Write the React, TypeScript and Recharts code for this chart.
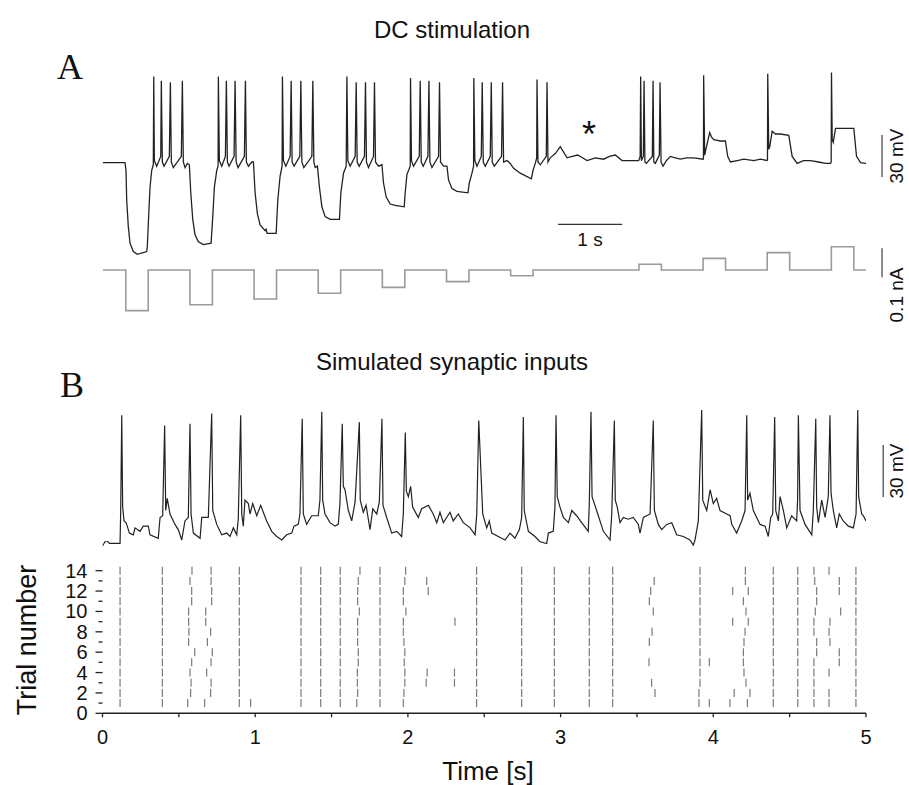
import React from "react";
import {
  LineChart,
  Line,
  XAxis,
  YAxis,
  ReferenceLine,
  ScatterChart,
  Scatter,
} from "recharts";

// ---- panel A: DC stimulation (12 s sweep) ----
const aTime = [
  0, 0.348, 0.363, 0.374, 0.399, 0.426, 0.477, 0.54, 0.608, 0.686, 0.696, 0.718, 0.738, 0.764, 0.789,
  0.796, 0.805, 0.842, 0.905, 0.914, 0.93, 0.956, 1.039, 1.055, 1.07, 1.101, 1.226, 1.242, 1.257, 1.284,
  1.32, 1.351, 1.373, 1.404, 1.44, 1.491, 1.569, 1.69, 1.716, 1.741, 1.778, 1.799,
  1.803, 1.819, 1.856, 1.913, 1.928, 1.944, 1.97, 2.048, 2.064, 2.08, 2.111, 2.209, 2.225, 2.24, 2.272,
  2.325, 2.35, 2.376, 2.412, 2.454, 2.532, 2.548, 2.563, 2.704, 2.73, 2.766, 2.797,
  2.802, 2.818, 2.855, 2.922, 2.938, 2.953, 2.984, 3.073, 3.089, 3.105, 3.136, 3.261, 3.276, 3.292, 3.312,
  3.348, 3.379, 3.417, 3.468, 3.546, 3.691, 3.713, 3.754, 3.796,
  3.807, 3.822, 3.858, 3.936, 3.952, 3.967, 3.998, 4.081, 4.097, 4.112, 4.144, 4.222, 4.237, 4.253, 4.3,
  4.353, 4.378, 4.42, 4.482, 4.56, 4.701, 4.716, 4.743, 4.794,
  4.799, 4.814, 4.846, 4.935, 4.95, 4.966, 4.997, 5.07, 5.086, 5.101, 5.133, 5.236, 5.251, 5.267, 5.314,
  5.367, 5.392, 5.445, 5.523, 5.694, 5.715, 5.757, 5.782,
  5.786, 5.802, 5.835, 5.902, 5.917, 5.933, 5.964, 6.042, 6.058, 6.073, 6.105, 6.218, 6.234, 6.25, 6.303,
  6.354, 6.406, 6.51, 6.682, 6.709, 6.744,
  6.766, 6.771, 6.786, 6.822, 6.916, 6.927, 6.942, 6.978, 7.056, 7.134, 7.239, 7.321, 7.404, 7.479, 7.551,
  7.68, 7.81, 7.899, 7.992, 8.097, 8.356,
  8.379, 8.387, 8.398, 8.429, 8.44, 8.453, 8.476, 8.569, 8.58, 8.592, 8.616, 8.678, 8.689, 8.705, 8.736,
  8.788, 8.85, 8.928, 9.006, 9.1, 9.214, 9.361,
  9.366, 9.369, 9.385, 9.404, 9.463, 9.49, 9.526, 9.63, 9.708, 9.744, 9.786, 9.895, 9.994, 10.15, 10.254,
  10.359,
  10.364, 10.368, 10.384, 10.4, 10.437, 10.488, 10.566, 10.696, 10.749, 10.827, 10.925, 11.034, 11.159,
  11.268, 11.346,
  11.357, 11.362, 11.373, 11.389, 11.425, 11.503, 11.596, 11.71, 11.752, 11.815, 11.9,
];
const aVolt = [
  -60.5, -60.5, -66, -87, -106, -118, -124, -126, -125, -124, -120, -97, -78, -66, -62,
  1, -59, -63, -56, -2, -60, -63, -56, -3, -60, -64, -56, -2, -60, -64,
  -61, -62, -82, -101, -112, -117, -119, -118, -99, -78, -66, -63,
  1, -59, -63, -56, -2, -60, -63, -56, -2, -60, -64, -56, -2, -60, -63,
  -60, -60, -82, -97, -105, -109, -108, -111, -111, -87, -70, -63,
  1, -59, -63, -56, -2, -60, -63, -56, -2, -60, -64, -56, -2, -60, -64,
  -63, -78, -92, -99, -101, -101, -82, -68, -63,
  1, -59, -63, -56, -3, -60, -63, -56, -3, -60, -64, -56, -3, -60, -63,
  -62, -75, -85, -90, -91, -92, -82, -69, -63,
  0, -59, -63, -56, -2, -60, -63, -56, -2, -60, -64, -56, -3, -60, -63,
  -63, -73, -79, -81, -82, -75, -68, -63,
  0, -59, -63, -56, -3, -60, -63, -56, -3, -60, -63, -56, -3, -60, -59,
  -61, -64.5, -68, -72, -66, -61,
  -57, -1, -60, -62, -56, -3, -60, -57, -54, -49, -57, -56, -55, -57, -59,
  -57, -58, -56, -55, -59, -59,
  -56, 1, -59, -56, -2, -60, -61, -56, -2, -60, -61, -55, -3, -60, -63,
  -59, -56, -57, -58, -57, -57, -58,
  -57, 2, -55, -51, -39, -42, -44, -45, -45, -56, -60, -59, -58, -59, -58,
  -59,
  -58, 3, -51, -49, -38, -40, -40, -41, -56, -61, -59, -59, -60,
  -61, -61,
  -60, 4, -44, -46, -36, -36, -36, -36, -56, -60.5, -61,
];

// injected current steps (nA), step changes only
const stepTime = [
  0, 0.36, 0.71, 1.36, 1.71, 2.36, 2.71, 3.36, 3.71, 4.36, 4.71, 5.36, 5.71, 6.36, 6.71,
  8.36, 8.71, 9.36, 9.71, 10.36, 10.71, 11.36, 11.71, 11.9,
];
const stepCurrent = [
  0, -0.14, 0, -0.12, 0, -0.1, 0, -0.08, 0, -0.06, 0, -0.04, 0, -0.02, 0,
  0.02, 0, 0.04, 0, 0.06, 0, 0.08, 0, 0,
];

// ---- panel B: simulated synaptic inputs (5 s) ----
const bTime = [
  0, 0.016, 0.038, 0.045, 0.115, 0.119, 0.126, 0.132, 0.141, 0.154, 0.162, 0.176, 0.202, 0.213, 0.246,
  0.267, 0.3, 0.311, 0.365, 0.377, 0.394, 0.407, 0.414, 0.424, 0.442, 0.475, 0.496, 0.519, 0.54, 0.562,
  0.573, 0.58, 0.595, 0.639, 0.65, 0.693, 0.715, 0.722, 0.748, 0.781, 0.813, 0.835, 0.857, 0.879, 0.889,
  0.905, 0.912, 0.922, 0.933, 0.955, 0.966, 0.984, 1.01, 1.036, 1.075, 1.108, 1.141, 1.174, 1.206, 1.239,
  1.254, 1.282, 1.293, 1.308, 1.315, 1.337, 1.37, 1.413, 1.424, 1.436, 1.442, 1.457, 1.49, 1.523, 1.544,
  1.555, 1.57, 1.577, 1.588, 1.61, 1.632, 1.654, 1.682, 1.688, 1.708, 1.726, 1.752, 1.77, 1.796, 1.813,
  1.83, 1.837, 1.861, 1.894, 1.927, 1.959, 1.97, 1.983, 1.99, 2.003, 2.018, 2.031, 2.068, 2.09, 2.134,
  2.166, 2.189, 2.21, 2.232, 2.276, 2.297, 2.33, 2.363, 2.407, 2.44, 2.451, 2.464, 2.49, 2.516, 2.533,
  2.549, 2.592, 2.636, 2.669, 2.701, 2.73, 2.745, 2.756, 2.762, 2.789, 2.832, 2.865, 2.909, 2.92, 2.952,
  2.963, 2.97, 2.978, 2.996, 3.018, 3.051, 3.073, 3.105, 3.138, 3.181, 3.188, 3.199, 3.206, 3.236, 3.28,
  3.324, 3.335, 3.352, 3.358, 3.371, 3.389, 3.411, 3.443, 3.476, 3.509, 3.52, 3.542, 3.586, 3.607, 3.614,
  3.64, 3.662, 3.695, 3.728, 3.76, 3.804, 3.847, 3.869, 3.88, 3.902, 3.924, 3.931, 3.957, 3.979, 4.0,
  4.022, 4.044, 4.088, 4.11, 4.121, 4.153, 4.186, 4.208, 4.219, 4.225, 4.24, 4.262, 4.306, 4.339, 4.36,
  4.376, 4.389, 4.402, 4.409, 4.426, 4.437, 4.459, 4.481, 4.513, 4.546, 4.552, 4.557, 4.568, 4.601, 4.645,
  4.655, 4.671, 4.677, 4.688, 4.71, 4.732, 4.753, 4.764, 4.771, 4.786, 4.808, 4.825, 4.851, 4.884, 4.917,
  4.935, 4.946, 4.952, 4.972, 4.983, 5.0,
];
const bVolt = [
  -68.5, -66, -66, -67, -67, -49, 7, -46, -54, -55, -57, -61, -62, -58, -60,
  -57, -57, -62, -64, -52, -51, 1, -48, -41, -50, -56, -59, -65, -54, -52,
  2, -50, -61, -64, -52, -52, 8, -48, -56, -62, -61, -63, -58, -62, -53,
  7, -50, -57, -42, -44, -50, -44, -51, -45, -54, -60, -63, -65, -62, -61,
  -57, -56, -50, 5, -50, -56, -51, -51, -42, 9, -42, -50, -55, -57, -56,
  -44, 2, -34, -36, -48, -54, -43, 3, -42, -49, -45, -59, -47, -50, -43,
  5, -45, -52, -61, -60, -63, -50, -3, -37, -40, -34, -46, -52, -47, -45,
  -50, -55, -49, -55, -49, -54, -50, -55, -58, -62, -50, 4, -50, -58, -54,
  -61, -63, -65, -61, -64, -59, -52, 6, -48, -60, -63, -66, -67, -61, -60,
  -46, 7, -40, -46, -52, -55, -48, -51, -55, -60, -44, 9, -40, -48, -60,
  -65, -50, 4, -42, -46, -55, -52, -53, -52, -56, -61, -52, -50, 4, -48,
  -56, -59, -56, -55, -62, -63, -65, -68, -65, -54, 10, -42, -48, -36, -44,
  -41, -48, -50, -51, -56, -61, -54, -48, 7, -42, -38, -48, -56, -57, -63,
  -52, -50, 6, -48, -54, -40, -48, -58, -51, -54, -42, 7, -48, -56, -62,
  -48, 5, -46, -55, -42, -52, -40, 7, -38, -48, -58, -50, -54, -57, -58,
  -50, 10, -40, -50, -51, -54,
];

// spike raster, one list of spike times (s) per trial
const trialNumbers = [1, 2, 3, 4, 5, 6, 7, 8, 9, 10, 11, 12, 13, 14];
const trialSpikes = [
  [0.115, 0.392, 0.558, 0.669, 0.896, 0.97, 1.3, 1.429, 1.557, 1.665, 1.817, 1.97, 2.45, 2.745, 2.959, 3.188, 3.341, 3.906, 3.974, 4.109, 4.223, 4.393, 4.553, 4.659, 4.758, 4.934],
  [0.115, 0.392, 0.577, 0.708, 0.896, 1.3, 1.429, 1.557, 1.671, 1.817, 1.974, 2.45, 2.745, 2.959, 3.188, 3.341, 3.618, 3.906, 4.137, 4.24, 4.393, 4.553, 4.659, 4.758, 4.934],
  [0.115, 0.392, 0.58, 0.711, 0.896, 1.3, 1.429, 1.557, 1.669, 1.817, 1.98, 2.12, 2.305, 2.45, 2.745, 2.959, 3.188, 3.341, 3.596, 3.913, 4.214, 4.393, 4.553, 4.659, 4.934],
  [0.115, 0.392, 0.573, 0.682, 0.896, 1.3, 1.429, 1.557, 1.669, 1.817, 1.98, 2.126, 2.305, 2.45, 2.745, 2.959, 3.188, 3.341, 3.913, 4.201, 4.393, 4.553, 4.659, 4.758, 4.934],
  [0.115, 0.392, 0.584, 0.711, 0.896, 1.3, 1.429, 1.557, 1.675, 1.817, 1.976, 2.45, 2.745, 2.959, 3.188, 3.341, 3.579, 3.913, 3.974, 4.197, 4.393, 4.553, 4.659, 4.825, 4.934],
  [0.115, 0.392, 0.604, 0.719, 0.896, 1.3, 1.429, 1.557, 1.675, 1.817, 1.98, 2.45, 2.745, 2.959, 3.188, 3.341, 3.913, 4.197, 4.393, 4.553, 4.677, 4.825, 4.934],
  [0.115, 0.392, 0.564, 0.687, 0.896, 1.3, 1.429, 1.557, 1.671, 1.817, 1.974, 2.45, 2.745, 2.959, 3.188, 3.341, 3.581, 3.913, 4.201, 4.393, 4.553, 4.677, 4.764, 4.934],
  [0.115, 0.392, 0.566, 0.708, 0.896, 1.3, 1.429, 1.557, 1.671, 1.817, 1.97, 2.45, 2.745, 2.959, 3.188, 3.341, 3.599, 3.913, 4.208, 4.393, 4.553, 4.659, 4.758, 4.934],
  [0.115, 0.392, 0.564, 0.676, 0.896, 1.3, 1.429, 1.557, 1.671, 1.817, 1.97, 2.308, 2.45, 2.745, 2.959, 3.188, 3.341, 3.913, 4.127, 4.229, 4.393, 4.553, 4.659, 4.764, 4.934],
  [0.115, 0.392, 0.564, 0.676, 0.896, 1.3, 1.429, 1.557, 1.682, 1.817, 1.987, 2.45, 2.745, 2.959, 3.188, 3.341, 3.607, 3.913, 4.214, 4.393, 4.553, 4.668, 4.834, 4.934],
  [0.115, 0.392, 0.584, 0.715, 0.896, 1.3, 1.429, 1.557, 1.671, 1.817, 1.97, 2.45, 2.745, 2.959, 3.188, 3.341, 3.581, 3.913, 4.197, 4.393, 4.553, 4.677, 4.934],
  [0.115, 0.392, 0.584, 0.715, 0.896, 1.3, 1.429, 1.557, 1.671, 1.817, 1.97, 2.133, 2.45, 2.745, 2.959, 3.188, 3.341, 3.59, 3.913, 4.127, 4.229, 4.393, 4.553, 4.677, 4.825, 4.934],
  [0.115, 0.392, 0.573, 0.711, 0.896, 1.3, 1.429, 1.557, 1.675, 1.817, 1.98, 2.123, 2.45, 2.745, 2.959, 3.188, 3.341, 3.613, 3.913, 4.21, 4.393, 4.553, 4.664, 4.825, 4.934],
  [0.115, 0.392, 0.586, 0.711, 0.896, 1.3, 1.429, 1.557, 1.686, 1.817, 1.985, 2.45, 2.745, 2.959, 3.188, 3.341, 3.913, 4.21, 4.393, 4.553, 4.659, 4.758, 4.934],
];
const timeTicks = [0, 0.5, 1, 1.5, 2, 2.5, 3, 3.5, 4, 4.5, 5];
const trialTicks = [0, 1, 2, 3, 4, 5, 6, 7, 8, 9, 10, 11, 12, 13, 14];

const sans = '"Liberation Sans", Arial, sans-serif';
const serif = '"Liberation Serif", "Times New Roman", serif';

const aVoltData = aTime.map((t, i) => ({ t, v: aVolt[i] }));
const aCurData = stepTime.map((t, i) => ({ t, c: stepCurrent[i] }));
const bData = bTime.map((t, i) => ({ t, v: bVolt[i] }));
const rasterData = trialSpikes.flatMap((spikes, i) =>
  spikes.map((t) => ({ t, k: trialNumbers[i] }))
);

const Dash = (props: any) => {
  const { cx, cy } = props;
  return <line x1={cx} x2={cx} y1={cy - 4} y2={cy + 4} stroke="#7a7a7a" strokeWidth={1.2} />;
};

const TrialTick = (props: any) => {
  const { x, y, payload } = props;
  const even = payload.value % 2 === 0;
  return (
    <g>
      <line x1={x - (even ? 7 : 4)} x2={x} y1={y} y2={y} stroke="#222" strokeWidth={1.3} />
      {even && (
        <text x={x - 15} y={y} textAnchor="end" dominantBaseline="central" fontSize={20} fontFamily={sans} fill="#111">
          {payload.value}
        </text>
      )}
    </g>
  );
};

const box = (top: number, height: number): React.CSSProperties => ({
  position: "absolute",
  left: 0,
  top,
  width: 909,
  height,
});

export default function App() {
  return (
    <div style={{ position: "absolute", left: 0, top: 0, width: 909, height: 785, background: "#fff", overflow: "hidden" }}>
      {/* panel A traces */}
      <div style={box(50, 290)}>
        <LineChart width={909} height={290} margin={{ top: 0, right: 43, bottom: 0, left: 102.7 }}>
          <XAxis dataKey="t" type="number" domain={[0, 11.9]} hide allowDataOverflow />
          <YAxis yAxisId="v" type="number" domain={[-187.14, 20]} hide allowDataOverflow />
          <YAxis yAxisId="c" type="number" domain={[-0.2414, 0.7586]} hide allowDataOverflow />
          <Line yAxisId="v" data={aVoltData} dataKey="v" type="linear" stroke="#222" strokeWidth={1.3} dot={false} isAnimationActive={false} />
          <Line yAxisId="c" data={aCurData} dataKey="c" type="stepAfter" stroke="#9a9a9a" strokeWidth={1.6} dot={false} isAnimationActive={false} />
          <ReferenceLine yAxisId="v" segment={[{ x: 12.15, y: -70.7 }, { x: 12.15, y: -40.7 }]} ifOverflow="visible" stroke="#666" strokeWidth={1.5} />
          <ReferenceLine yAxisId="v" segment={[{ x: 7.1, y: -104.5 }, { x: 8.1, y: -104.5 }]} ifOverflow="visible" stroke="#333" strokeWidth={1.3} />
          <ReferenceLine yAxisId="c" segment={[{ x: 12.15, y: -0.025 }, { x: 12.15, y: 0.075 }]} ifOverflow="visible" stroke="#666" strokeWidth={1.5} />
        </LineChart>
      </div>

      {/* panel B membrane potential */}
      <div style={box(400, 160)}>
        <LineChart width={909} height={160} data={bData} margin={{ top: 0, right: 43, bottom: 0, left: 102.5 }}>
          <XAxis dataKey="t" type="number" domain={[0, 5]} hide allowDataOverflow />
          <YAxis type="number" domain={[-76.54, 15.77]} hide allowDataOverflow />
          <Line dataKey="v" type="linear" stroke="#222" strokeWidth={1.2} dot={false} isAnimationActive={false} />
          <ReferenceLine segment={[{ x: 5.113, y: -40.2 }, { x: 5.113, y: -10.2 }]} ifOverflow="visible" stroke="#666" strokeWidth={1.5} />
        </LineChart>
      </div>

      {/* panel B raster */}
      <div style={box(555, 230)}>
        <ScatterChart width={909} height={230} margin={{ top: 15.7, right: 43, bottom: 41.7, left: 62.5 }}>
          <XAxis
            dataKey="t"
            type="number"
            domain={[0, 5]}
            ticks={timeTicks}
            interval={0}
            height={30}
            tickSize={4}
            tickMargin={12}
            tickFormatter={(v: number) => (Number.isInteger(v) ? String(v) : "")}
            stroke="#222"
            axisLine={{ stroke: "#222", strokeWidth: 1.5 }}
            tickLine={{ stroke: "#222", strokeWidth: 1.3 }}
            tick={{ fontSize: 20, fill: "#111", fontFamily: sans }}
          />
          <YAxis
            dataKey="k"
            type="number"
            domain={[0, 14]}
            ticks={trialTicks}
            interval={0}
            width={40}
            axisLine={false}
            tickLine={false}
            tickSize={0}
            tickMargin={0}
            tick={<TrialTick />}
          />
          <Scatter data={rasterData} shape={<Dash />} isAnimationActive={false} />
        </ScatterChart>
      </div>

      {/* labels */}
      <svg width={909} height={785} style={{ position: "absolute", left: 0, top: 0, pointerEvents: "none" }}>
        <g fontFamily={sans} fill="#111">
          <text x={452} y={38} fontSize={24} textAnchor="middle">DC stimulation</text>
          <text x={452} y={370} fontSize={24} textAnchor="middle">Simulated synaptic inputs</text>
          <text x={589} y={147} fontSize={36} textAnchor="middle">*</text>
          <text x={590} y={246} fontSize={19} textAnchor="middle">1 s</text>
          <text transform="translate(896,156) rotate(-90)" fontSize={19} textAnchor="middle" dominantBaseline="central">30 mV</text>
          <text transform="translate(896,295) rotate(-90)" fontSize={19} textAnchor="middle" dominantBaseline="central">0.1 nA</text>
          <text transform="translate(896,471) rotate(-90)" fontSize={19} textAnchor="middle" dominantBaseline="central">30 mV</text>
          <text transform="translate(27,640) rotate(-90)" fontSize={27} textAnchor="middle" dominantBaseline="central">Trial number</text>
          <text x={488} y={780} fontSize={26} textAnchor="middle">Time [s]</text>
        </g>
        <g fontFamily={serif} fill="#111">
          <text x={57} y={79} fontSize={36}>A</text>
          <text x={60} y={397} fontSize={36}>B</text>
        </g>
      </svg>
    </div>
  );
}
